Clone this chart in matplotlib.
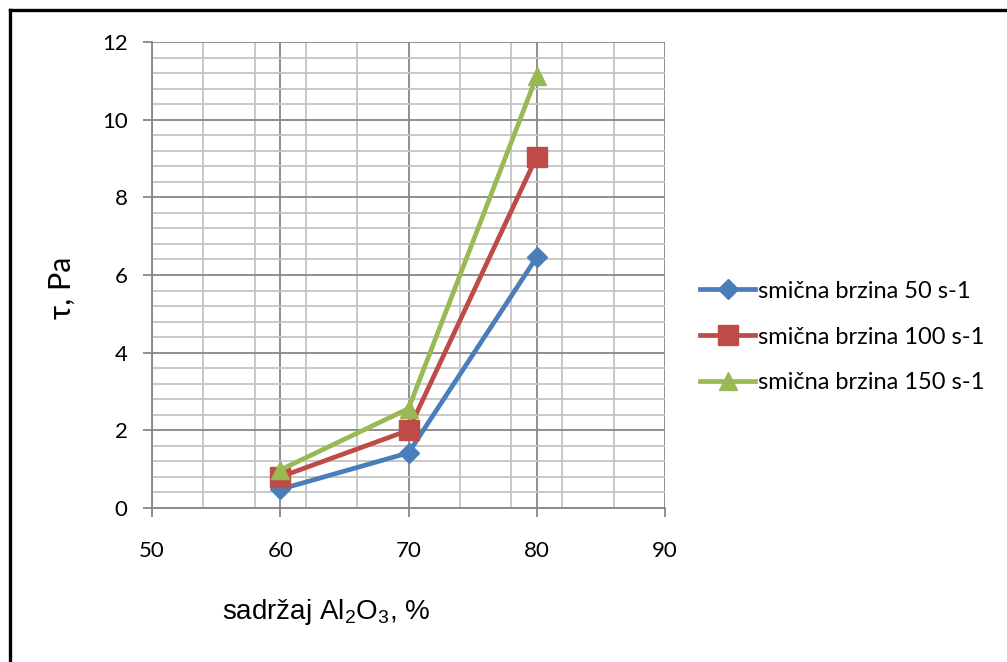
import matplotlib
matplotlib.use("Agg")
import matplotlib.pyplot as plt
from matplotlib.lines import Line2D

# data
x_vals = [60, 70, 80]
tau_50 = [0.48, 1.42, 6.46]
tau_100 = [0.80, 2.0, 9.05]
tau_150 = [0.98, 2.56, 11.12]
labels = ["smična brzina 50 s-1", "smična brzina 100 s-1", "smična brzina 150 s-1"]

plt.rcParams['font.family'] = ['Lato', 'DejaVu Sans']

W, H = 1007, 662
fig = plt.figure(figsize=(W / 100, H / 100), dpi=100)
ax = fig.add_axes([152 / W, 1 - 508 / H, 513 / W, 466 / H])

ax.plot(x_vals, tau_50, color='#4a7ebb', lw=3.4, marker='D', ms=10, label=labels[0], zorder=3)
ax.plot(x_vals, tau_100, color='#be4b48', lw=3.4, marker='s', ms=14, label=labels[1], zorder=3)
ax.plot(x_vals, tau_150, color='#98b954', lw=3.4, marker='^', ms=13.5, label=labels[2], zorder=3)

ax.set_xlim(50, 90)
ax.set_ylim(0, 12)
ax.set_xticks(range(50, 91, 10))
ax.set_yticks(range(0, 13, 2))
ax.set_xticks([50 + 4 * i for i in range(11)], minor=True)
ax.set_yticks([0.4 * i for i in range(31)], minor=True)

ax.grid(which='major', color='#878787', lw=1.3, zorder=0)
ax.grid(which='minor', color='#c4c4c4', lw=1.3, zorder=0)
ax.set_axisbelow(True)

for s in ['top', 'right']:
    ax.spines[s].set_visible(False)
for s in ['left', 'bottom']:
    ax.spines[s].set_color('#878787')
    ax.spines[s].set_linewidth(1.3)

ax.tick_params(which='major', direction='out', length=6.5, width=1.3, color='#878787',
               labelsize=16, labelcolor='black')
ax.tick_params(axis='y', pad=11)
ax.tick_params(axis='x', pad=17)
ax.tick_params(which='minor', length=0)

ax.set_xlabel("sadržaj Al$\\mathregular{_2}$O$\\mathregular{_3}$, %", fontsize=20,
              family='Liberation Sans', va='center')
ax.xaxis.set_label_coords((326 - 152) / 513, (508 - 612) / 466)
ax.set_ylabel("τ, Pa", fontsize=22, va='center')
ax.yaxis.set_label_coords((62 - 152) / 513, (508 - 288) / 466)

leg = ax.legend(loc='center left', bbox_to_anchor=(700 / W, 1 - 337 / H),
                bbox_transform=fig.transFigure, frameon=False, fontsize=17,
                handlelength=2.35, handletextpad=0.12, labelspacing=1.05, borderaxespad=0,
                borderpad=0)

# outer chart frame (only top and left visible)
fig.add_artist(Line2D([9.5 / W, 9.5 / W], [0, 1 - 9.5 / H], color='black', lw=2.4,
                      transform=fig.transFigure))
fig.add_artist(Line2D([9.5 / W, 1], [1 - 9.5 / H, 1 - 9.5 / H], color='black', lw=2.4,
                      transform=fig.transFigure))

fig.savefig("out.png", dpi=100)
